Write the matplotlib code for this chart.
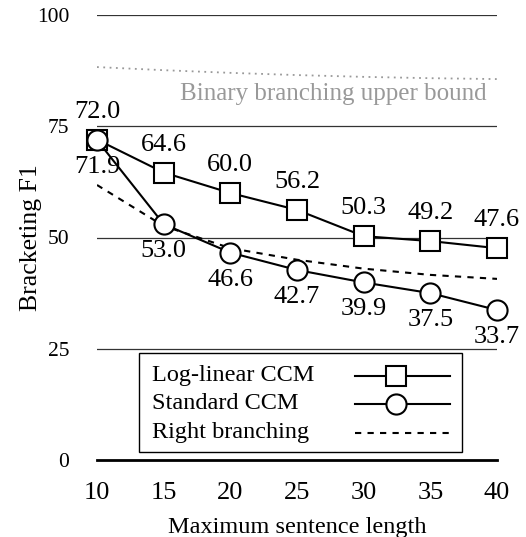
import matplotlib
matplotlib.use("Agg")
import matplotlib.pyplot as plt
from matplotlib.patches import Rectangle
from matplotlib.lines import Line2D

plt.rcParams['font.family'] = ['Liberation Serif', 'DejaVu Serif']

lengths = [10, 15, 20, 25, 30, 35, 40]
loglinear = [72.0, 64.6, 60.0, 56.2, 50.3, 49.2, 47.6]
standard = [71.9, 53.0, 46.6, 42.7, 39.9, 37.5, 33.7]
right_branching = [61.8, 52.6, 47.6, 45.0, 43.0, 41.6, 40.7]
upper_bound = [88.3, 87.6, 87.0, 86.5, 86.1, 85.8, 85.6]
yticks = [0, 25, 50, 75, 100]
legend_labels = ['Log-linear CCM', 'Standard CCM', 'Right branching']

fig = plt.figure(figsize=(5.26, 5.37), dpi=100)
ax = fig.add_axes([97 / 526, 77 / 537, 400 / 526, 445 / 537])
ax.set_xlim(10, 40)
ax.set_ylim(0, 100)

for y in yticks[1:]:
    ax.axhline(y, color='#333333', lw=0.9, zorder=1)
ax.axhline(0, color='black', lw=2.0, zorder=1, clip_on=False)

ax.plot(lengths, upper_bound, color='#999999', lw=1.3, ls=(0, (1, 2.5)), zorder=2)
ax.text(39.25, 82.3, 'Binary branching upper bound', color='#999999', fontsize=18,
        ha='right', va='center')

rb_style = dict(color='black', lw=1.5, ls=(0, (3, 3)))
std_style = dict(color='black', lw=1.5, marker='o', ms=14.5, mfc='white',
                 mec='black', mew=1.5)
ll_style = dict(color='black', lw=1.5, marker='s', ms=14, mfc='white',
                mec='black', mew=1.5)

ax.plot(lengths, right_branching, zorder=2, **rb_style)
ax.plot(lengths, standard, clip_on=False, zorder=4, **std_style)
ax.plot(lengths, loglinear, clip_on=False, zorder=3, **ll_style)

for x, v in zip(lengths, loglinear):
    ax.annotate(f'{v:.1f}', (x, v), xytext=(0, 28), textcoords='offset pixels',
                ha='center', va='center', fontsize=19)
for x, v in zip(lengths, standard):
    ax.annotate(f'{v:.1f}', (x, v), xytext=(0, -27), textcoords='offset pixels',
                ha='center', va='center', fontsize=19)

for s in ax.spines.values():
    s.set_visible(False)
ax.set_xticks(lengths)
ax.set_xticklabels([str(v) for v in lengths], fontsize=19)
ax.set_yticks(yticks)
ax.set_yticklabels([str(v) for v in yticks], fontsize=15.5)
ax.tick_params(axis='both', length=0)
ax.tick_params(axis='x', pad=15.5)
ax.tick_params(axis='y', pad=20)
ax.set_xlabel('Maximum sentence length', fontsize=17.5, labelpad=9.5)
ax.set_ylabel('Bracketing F1', fontsize=18.5, labelpad=-3.5)

# manual legend (text left, handle right)
tr = ax.transAxes
ax.add_patch(Rectangle((0.105, 0.018), 0.8075, 0.2224, transform=tr, fill=True,
                       facecolor='white', edgecolor='black', lw=1.0, zorder=5,
                       clip_on=False))
rows_y = [0.189, 0.126, 0.061]
styles = [ll_style, std_style, rb_style]
for lab, yy, st in zip(legend_labels, rows_y, styles):
    ax.text(0.1375, yy, lab, transform=tr, ha='left', va='center', fontsize=17.5,
            zorder=6)
    line_kw = {k: v for k, v in st.items() if k not in ('marker', 'ms', 'mfc', 'mec', 'mew')}
    ax.add_line(Line2D([0.645, 0.8825], [yy, yy], transform=tr, zorder=6,
                       clip_on=False, **line_kw))
    if 'marker' in st:
        ax.add_line(Line2D([0.7475], [yy], transform=tr, zorder=7, clip_on=False,
                           ls='none', marker=st['marker'], ms=st['ms'],
                           mfc='white', mec='black', mew=1.5))

fig.savefig('out.png', dpi=100)
